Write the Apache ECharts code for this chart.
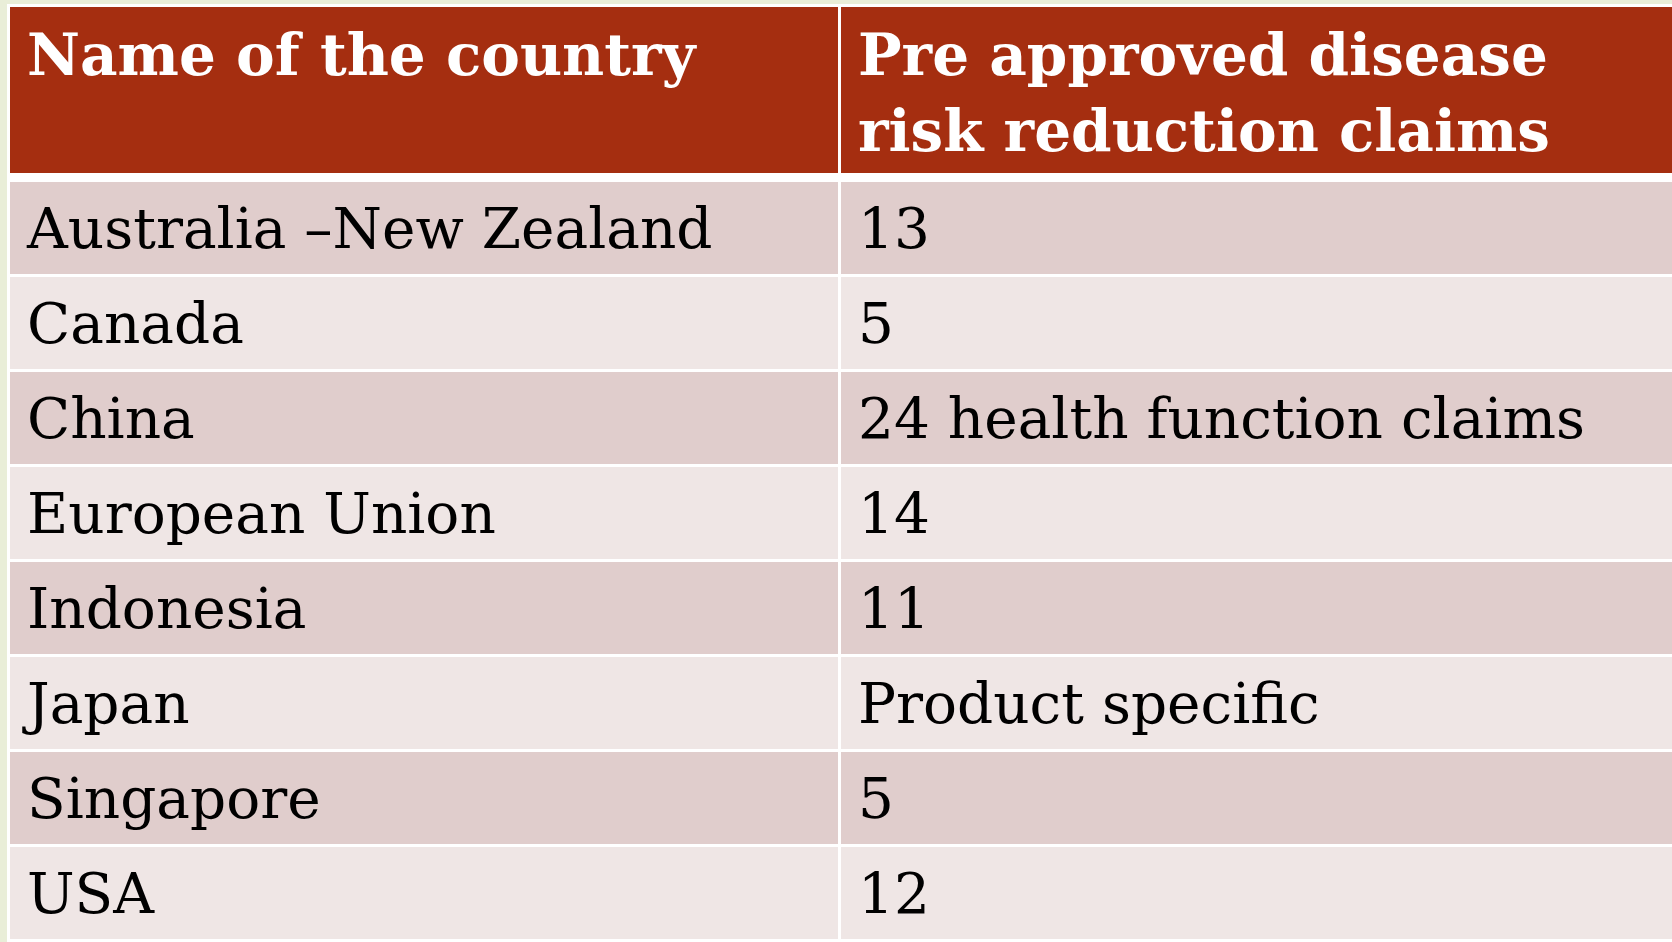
<!DOCTYPE html>
<html>
<head>
<meta charset="utf-8">
<script src="https://cdn.jsdelivr.net/npm/echarts@6/dist/echarts.min.js"></script>
<style>
  html, body { margin: 0; padding: 0; background: #e9eed8; }
  #main { width: 1672px; height: 942px; }
</style>
</head>
<body>
<div id="main"></div>
<script>
var headers = ['Name of the country', 'Pre approved disease\nrisk reduction claims'];
var countries = ['Australia \u2013New Zealand', 'Canada', 'China', 'European Union', 'Indonesia', 'Japan', 'Singapore', 'USA'];
var claims = ['13', '5', '24 health function claims', '14', '11', 'Product specific', '5', '12'];

var columns = ['country', 'claims'];
var rowIds = countries.map(function (c, i) { return 'r' + i; });

var headerCells = headers.map(function (t, i) { return [i, 0]; });
var bodyCells = [];
countries.forEach(function (c, i) {
  bodyCells.push([0, i]);
  bodyCells.push([1, i]);
});

var FONT = '"DejaVu Serif", Georgia, serif';
var GAP = 3;

function cellRect(api, gapY) {
  var c = api.coord([api.value(0), api.value(1)]);
  var s = api.size([1, 1]);
  var x0 = c[0] - s[0] / 2;
  var y0 = c[1] - s[1] / 2;
  var w = s[0] - GAP;
  if (api.value(0) === columns.length - 1) w += 6;
  return { x: x0, y: y0, width: w, height: s[1] - gapY };
}

var myChart = echarts.init(document.getElementById('main'));
var option = {
  backgroundColor: '#e9eed8',
  animation: false,
  graphic: [{
    type: 'rect',
    z: -10,
    shape: { x: 7, y: 4, width: 1700, height: 960 },
    style: { fill: '#ffffff' }
  }],
  grid: [
    { left: 10, top: 7, width: 1664, height: 166 },
    { left: 10, top: 182, width: 1664, height: 765.6 }
  ],
  xAxis: [
    { type: 'category', gridIndex: 0, data: columns, show: false },
    { type: 'category', gridIndex: 1, data: columns, show: false }
  ],
  yAxis: [
    { type: 'category', gridIndex: 0, data: ['header'], inverse: true, show: false },
    { type: 'category', gridIndex: 1, data: rowIds, inverse: true, show: false }
  ],
  series: [
    {
      type: 'custom',
      xAxisIndex: 0,
      yAxisIndex: 0,
      data: headerCells,
      renderItem: function (params, api) {
        var r = cellRect(api, 0);
        return {
          type: 'group',
          children: [
            { type: 'rect', shape: r, style: { fill: '#a52e10' } },
            {
              type: 'text',
              style: {
                x: r.x + 17,
                y: r.y + 15,
                text: headers[params.dataIndex],
                font: 'bold 58px ' + FONT,
                lineHeight: 76,
                fill: '#ffffff',
                verticalAlign: 'top'
              }
            }
          ]
        };
      }
    },
    {
      type: 'custom',
      xAxisIndex: 1,
      yAxisIndex: 1,
      data: bodyCells,
      renderItem: function (params, api) {
        var r = cellRect(api, GAP);
        var col = api.value(0), row = api.value(1);
        var txt = col === 0 ? countries[row] : claims[row];
        return {
          type: 'group',
          children: [
            { type: 'rect', shape: r, style: { fill: row % 2 === 0 ? '#e0cdcc' : '#efe6e5' } },
            {
              type: 'text',
              style: {
                x: r.x + 17,
                y: r.y + r.height / 2 + 5,
                text: txt,
                font: '56.5px ' + FONT,
                fill: '#000000',
                verticalAlign: 'middle'
              }
            }
          ]
        };
      }
    }
  ]
};
myChart.setOption(option);
</script>
</body>
</html>
